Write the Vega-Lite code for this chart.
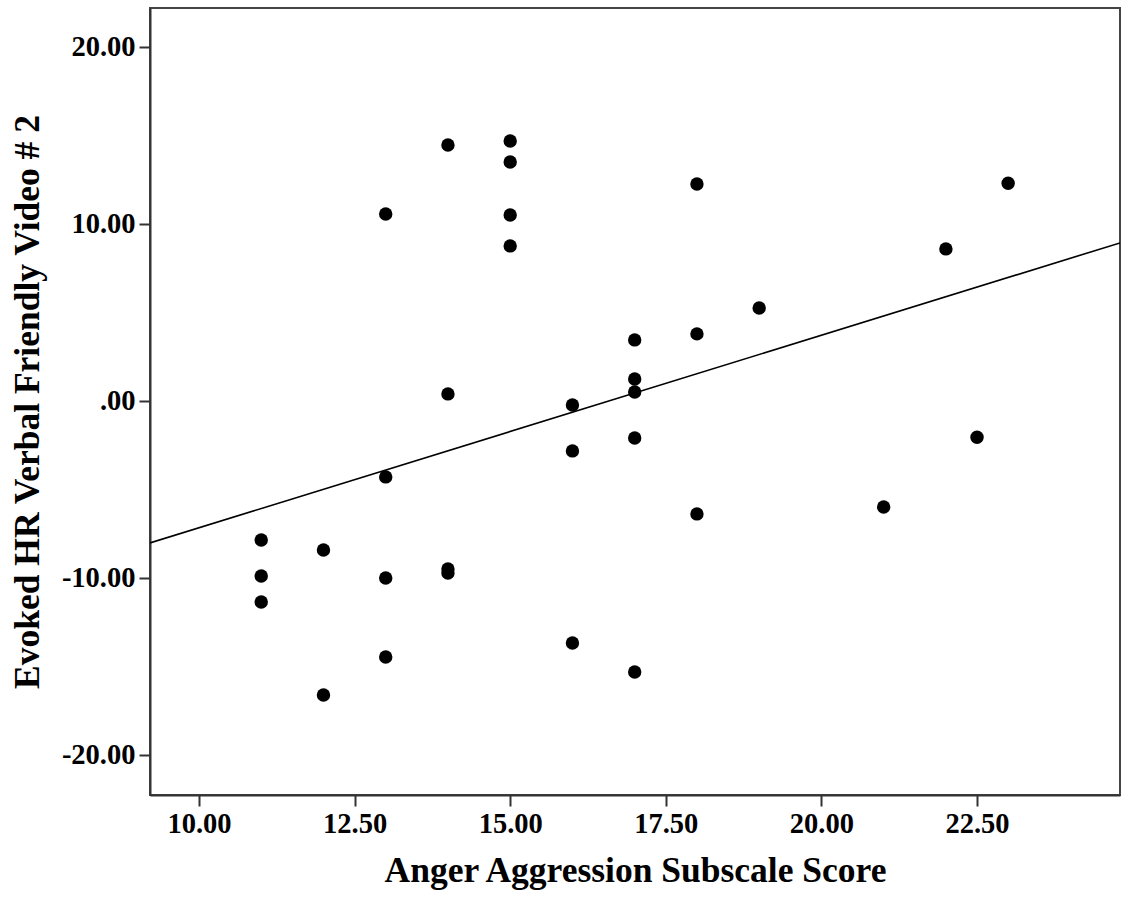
{
  "$schema": "https://vega.github.io/schema/vega-lite/v6.json",
  "autosize": {"type": "none"},
  "padding": {"left": 150, "top": 8, "right": 3, "bottom": 103},
  "width": 970,
  "height": 787,
  "background": "white",
  "config": {
    "view": {"stroke": "#444444", "strokeWidth": 2},
    "axis": {
      "labelFont": "Liberation Serif",
      "titleFont": "Liberation Serif",
      "labelColor": "black",
      "titleColor": "black",
      "grid": false,
      "domainColor": "#333333",
      "domainWidth": 2,
      "tickColor": "#333333",
      "tickWidth": 2,
      "tickSize": 11
    }
  },
  "datasets": {
    "points": [
      {"anger": 11, "hr": -7.85},
      {"anger": 11, "hr": -9.89},
      {"anger": 11, "hr": -11.36},
      {"anger": 12, "hr": -8.42},
      {"anger": 12, "hr": -16.61},
      {"anger": 13, "hr": 10.56},
      {"anger": 13, "hr": -4.29},
      {"anger": 13, "hr": -10.0},
      {"anger": 13, "hr": -14.46},
      {"anger": 14, "hr": 14.46},
      {"anger": 14, "hr": 0.4},
      {"anger": 14, "hr": -9.49},
      {"anger": 14, "hr": -9.72},
      {"anger": 15, "hr": 14.69},
      {"anger": 15, "hr": 13.5},
      {"anger": 15, "hr": 10.51},
      {"anger": 15, "hr": 8.76},
      {"anger": 16, "hr": -0.23},
      {"anger": 16, "hr": -2.82},
      {"anger": 16, "hr": -13.67},
      {"anger": 17, "hr": 3.45},
      {"anger": 17, "hr": 1.24},
      {"anger": 17, "hr": 0.51},
      {"anger": 17, "hr": -2.09},
      {"anger": 17, "hr": -15.31},
      {"anger": 18, "hr": 12.26},
      {"anger": 18, "hr": 3.79},
      {"anger": 18, "hr": -6.38},
      {"anger": 19, "hr": 5.25},
      {"anger": 21, "hr": -5.99},
      {"anger": 22, "hr": 8.59},
      {"anger": 22.5, "hr": -2.05},
      {"anger": 23, "hr": 12.3}
    ],
    "fit": [
      {"anger": 9.213, "hr": -8.02},
      {"anger": 24.797, "hr": 8.93}
    ]
  },
  "encoding": {
    "x": {
      "field": "anger",
      "type": "quantitative",
      "scale": {"domain": [9.213, 24.797], "nice": false, "zero": false},
      "axis": {
        "title": "Anger Aggression Subscale Score",
        "values": [10, 12.5, 15, 17.5, 20, 22.5],
        "format": ".2f",
        "labelFontSize": 28.5,
        "labelFontWeight": 600,
        "titleFontSize": 35.5,
        "titleFontWeight": "bold",
        "labelPadding": 3,
        "titlePadding": 16
      }
    },
    "y": {
      "field": "hr",
      "type": "quantitative",
      "scale": {"domain": [-22.26, 22.2], "nice": false, "zero": false},
      "axis": {
        "title": "Evoked HR Verbal Friendly Video # 2",
        "values": [-20, -10, 0, 10, 20],
        "labelExpr": "datum.value == 0 ? '.00' : (datum.value < 0 ? '-' + format(-datum.value, '.2f') : format(datum.value, '.2f'))",
        "labelFontSize": 28.5,
        "labelFontWeight": 600,
        "titleFontSize": 35.5,
        "titleFontWeight": "bold",
        "labelPadding": 4,
        "titlePadding": 16
      }
    }
  },
  "layer": [
    {
      "data": {"name": "fit"},
      "mark": {"type": "line", "color": "black", "strokeWidth": 1.6, "clip": true}
    },
    {
      "data": {"name": "points"},
      "mark": {"type": "circle", "color": "black", "opacity": 1, "size": 180}
    }
  ]
}
